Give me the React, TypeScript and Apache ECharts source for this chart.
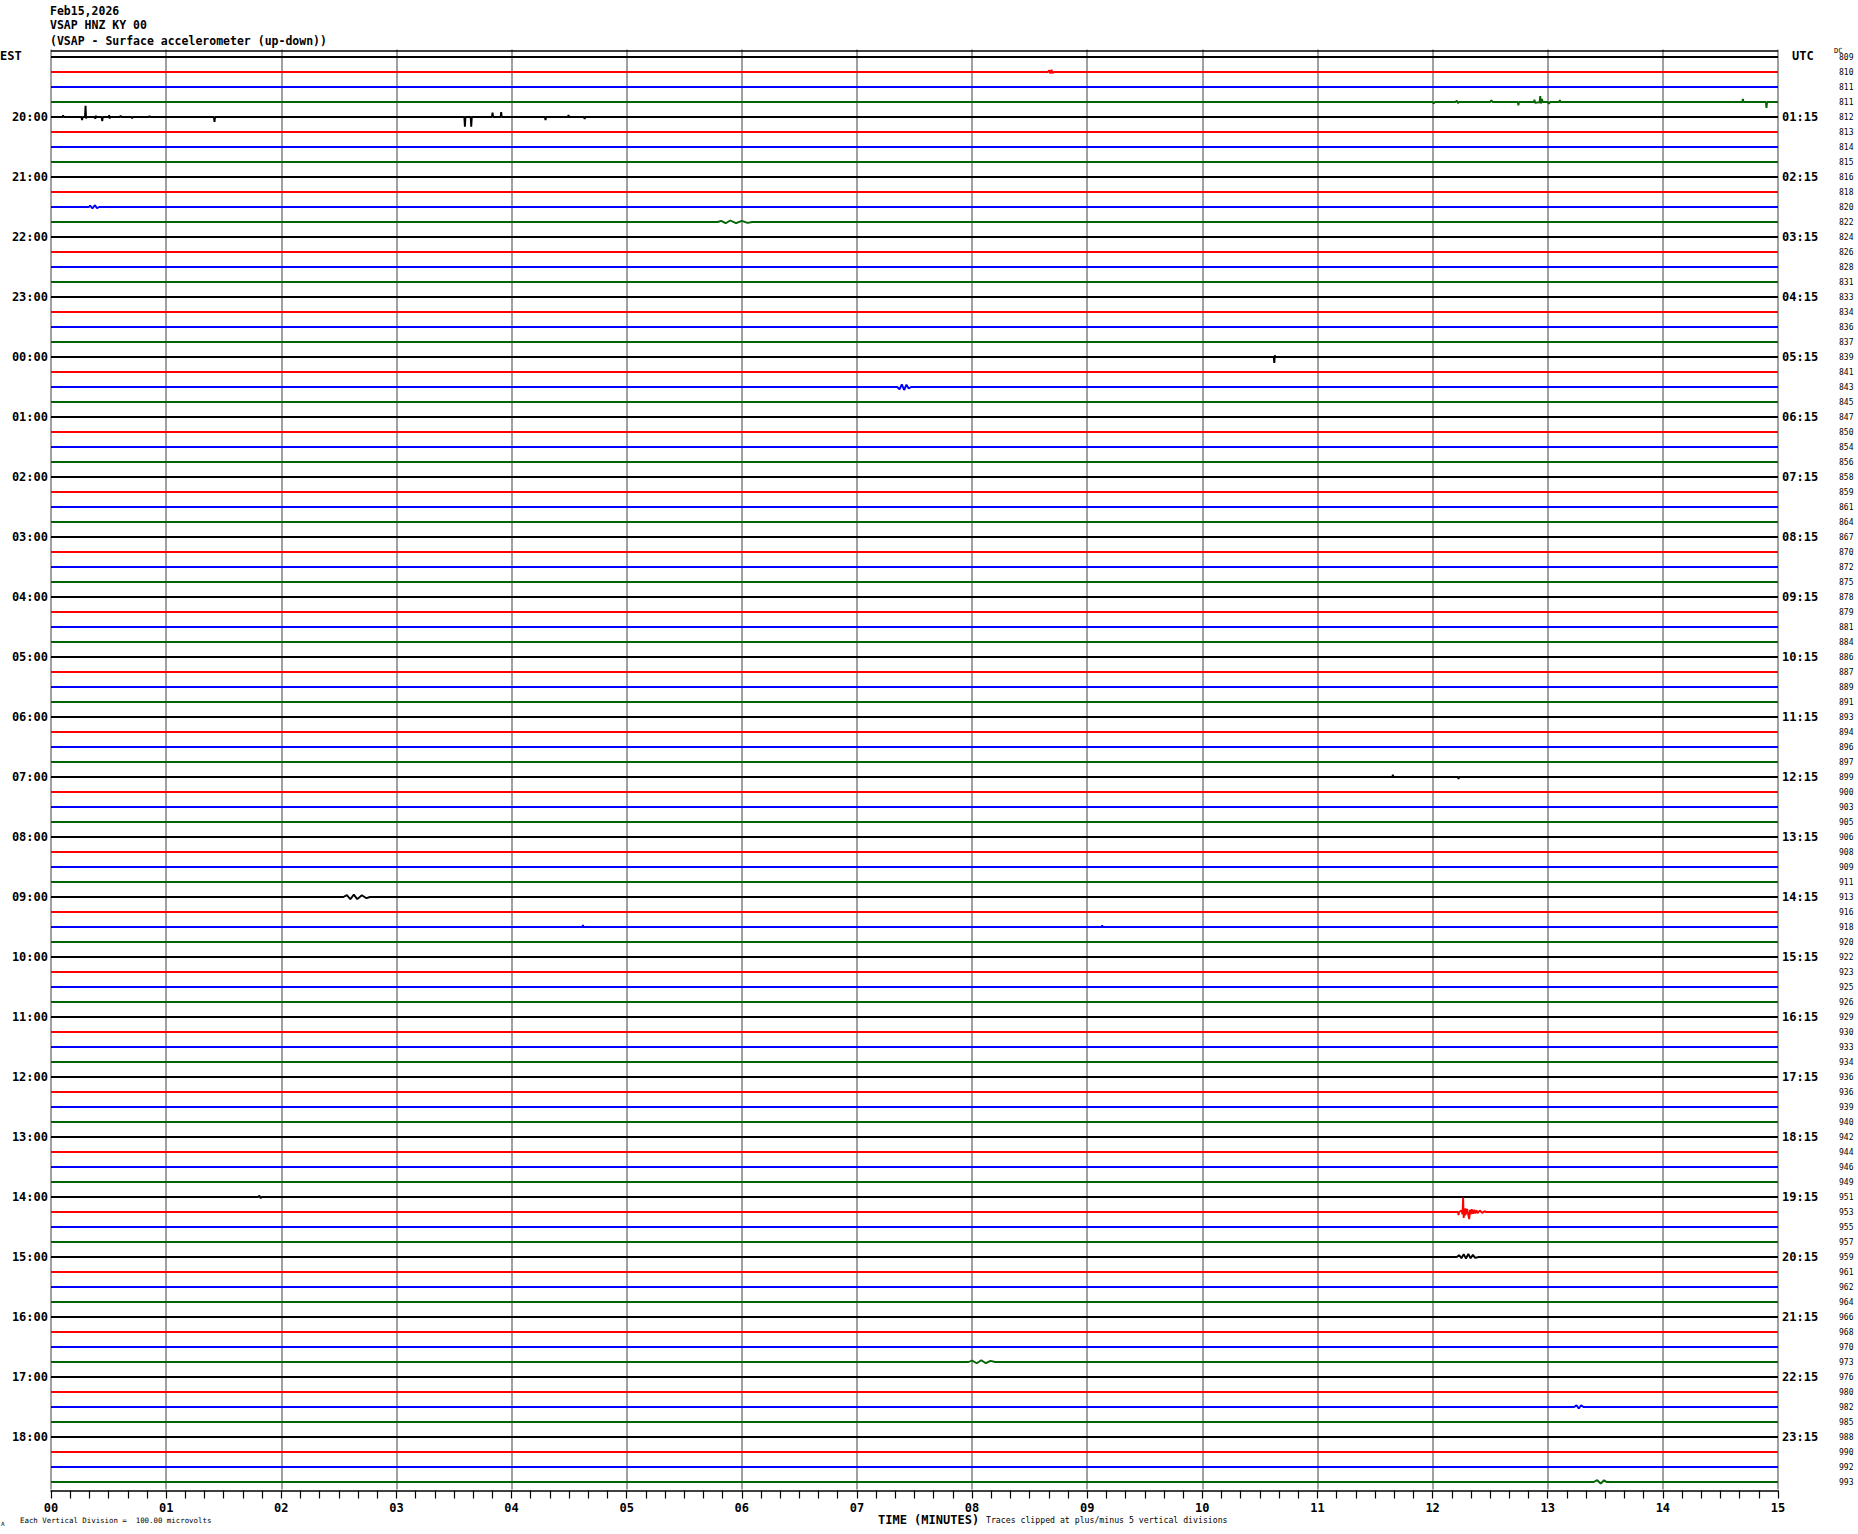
import React, { useEffect, useRef } from "react";
import * as echarts from "echarts";

// ---------- data ----------
const traceColors = ["#000000", "#ff0000", "#0000ff", "#006400"];
const TRACE_COUNT = 96;
const MINUTES = 15;

const estHourLabels = [
  "20:00", "21:00", "22:00", "23:00", "00:00", "01:00", "02:00", "03:00",
  "04:00", "05:00", "06:00", "07:00", "08:00", "09:00", "10:00", "11:00",
  "12:00", "13:00", "14:00", "15:00", "16:00", "17:00", "18:00",
];
const utcHourLabels = [
  "01:15", "02:15", "03:15", "04:15", "05:15", "06:15", "07:15", "08:15",
  "09:15", "10:15", "11:15", "12:15", "13:15", "14:15", "15:15", "16:15",
  "17:15", "18:15", "19:15", "20:15", "21:15", "22:15", "23:15",
];
const dcValues = [
  809, 810, 811, 811, 812, 813, 814, 815, 816, 818, 820, 822, 824, 826, 828, 831,
  833, 834, 836, 837, 839, 841, 843, 845, 847, 850, 854, 856, 858, 859, 861, 864,
  867, 870, 872, 875, 878, 879, 881, 884, 886, 887, 889, 891, 893, 894, 896, 897,
  899, 900, 903, 905, 906, 908, 909, 911, 913, 916, 918, 920, 922, 923, 925, 926,
  929, 930, 933, 934, 936, 936, 939, 940, 942, 944, 946, 949, 951, 953, 955, 957,
  959, 961, 962, 964, 966, 968, 970, 973, 976, 980, 982, 985, 988, 990, 992, 993,
];

// Events: [minute, microvolts] (positive = up)
const trace01 = [[8.66, 0], [8.67, 12], [8.68, -10], [8.69, 14], [8.7, -8], [8.71, 0]];
const trace03 = [
  [12.0, 0], [12.01, -10], [12.02, 0], [12.2, 0], [12.21, 10], [12.22, -8], [12.23, 0],
  [12.5, 0], [12.51, 12], [12.52, 0], [12.74, 0], [12.745, -22], [12.75, 0],
  [12.88, 0], [12.885, 15], [12.89, -6], [12.93, 0], [12.935, 40], [12.94, -10],
  [12.95, 20], [12.955, 0], [13.0, 0], [13.01, -12], [13.02, 0], [13.1, 0],
  [13.105, 14], [13.11, 0], [14.69, 0], [14.695, 20], [14.7, 0], [14.895, 0],
  [14.9, -40], [14.905, 0],
];
const trace04 = [
  [0.1, 0], [0.105, 12], [0.11, 0], [0.265, 0], [0.27, -20], [0.275, 0], [0.295, 0],
  [0.3, 75], [0.305, -10], [0.31, 0], [0.38, 0], [0.385, -12], [0.39, 8], [0.395, 0],
  [0.44, 0], [0.445, -28], [0.45, 0], [0.5, 0], [0.505, 12], [0.51, -10], [0.515, 0],
  [0.6, 0], [0.605, 10], [0.61, 0], [0.7, 0], [0.705, -10], [0.71, 0], [0.85, 0],
  [0.855, 8], [0.86, 0], [1.415, 0], [1.42, -33], [1.425, 0], [3.59, 0], [3.595, -64],
  [3.6, 0], [3.645, 0], [3.65, -64], [3.655, 0], [3.83, 0], [3.835, 30], [3.84, 0],
  [3.905, 0], [3.91, 33], [3.915, 0], [4.29, 0], [4.295, -20], [4.3, 0], [4.49, 0],
  [4.495, 13], [4.5, 0], [4.63, 0], [4.635, -13], [4.64, 0],
];
const trace10 = [[0.33, 0], [0.34, 10], [0.36, -10], [0.38, 12], [0.4, -8], [0.42, 0]];
const trace11 = [
  [5.79, 0], [5.82, 8], [5.86, -8], [5.9, 10], [5.95, -8], [6.0, 8], [6.05, -6], [6.09, 0],
];
const trace20 = [[10.62, 0], [10.625, -40], [10.63, 12], [10.635, 0]];
const trace22 = [
  [7.35, 0], [7.37, -15], [7.39, 18], [7.41, -20], [7.43, 15], [7.45, -10], [7.47, 0],
];
const trace48 = [[11.65, 0], [11.655, 15], [11.66, 0], [12.22, 0], [12.225, -13], [12.23, 0]];
const trace56 = [
  [2.54, 0], [2.57, 12], [2.6, -15], [2.63, 16], [2.66, -14], [2.7, 12], [2.74, -8], [2.77, 0],
];
const trace58 = [[4.615, 0], [4.62, 14], [4.625, 0], [9.125, 0], [9.13, 12], [9.135, 0]];
const trace76 = [[1.8, 0], [1.81, 10], [1.82, -8], [1.83, 0]];
const trace77 = [
  [12.22, 0], [12.225, -20], [12.23, 0], [12.25, 10], [12.26, -15], [12.265, 96],
  [12.27, -40], [12.275, 20], [12.28, -25], [12.285, 25], [12.29, -15], [12.3, 20],
  [12.31, -20], [12.318, -47], [12.325, 15], [12.33, -15], [12.34, 18], [12.35, -12],
  [12.36, 14], [12.37, -10], [12.38, 12], [12.39, -8], [12.41, 10], [12.43, -6],
  [12.455, 6], [12.46, 0],
];
const trace80 = [
  [12.21, 0], [12.23, 12], [12.25, -8], [12.27, 18], [12.29, -10], [12.31, 20],
  [12.33, -8], [12.35, 14], [12.37, -6], [12.4, 0],
];
const trace87 = [
  [7.97, 0], [8.0, 10], [8.04, -8], [8.08, 12], [8.12, -8], [8.16, 8], [8.2, 0],
];
const trace90 = [[13.23, 0], [13.25, 12], [13.27, -10], [13.29, 12], [13.31, 0]];
const trace95 = [[13.4, 0], [13.43, 12], [13.46, -10], [13.49, 12], [13.51, 0]];

const traceEvents: Record<number, number[][]> = {
  1: trace01, 3: trace03, 4: trace04, 10: trace10, 11: trace11, 20: trace20,
  22: trace22, 48: trace48, 56: trace56, 58: trace58, 76: trace76, 77: trace77,
  80: trace80, 87: trace87, 90: trace90, 95: trace95,
};

const MICROVOLTS_PER_DIVISION = 100; // one trace spacing = one division

const MONO = "'DejaVu Sans Mono', 'Liberation Mono', monospace";

export default function App() {
  const ref = useRef<HTMLDivElement>(null);

  useEffect(() => {
    document.body.style.margin = "0";
    if (!ref.current) return;
    const chart = echarts.init(ref.current, undefined, { renderer: "svg" });

    const categories = Array.from({ length: TRACE_COUNT }, (_, i) => String(i));

    const series: any[] = [];
    for (let i = 0; i < TRACE_COUNT; i++) {
      const ev = traceEvents[i] || [];
      const pts = [[0, 0], ...ev, [MINUTES, 0]].map(([m, uv]) => [
        m,
        i - uv / MICROVOLTS_PER_DIVISION,
      ]);
      series.push({
        type: "line",
        xAxisIndex: 0,
        yAxisIndex: 0,
        data: pts,
        showSymbol: false,
        symbol: "none",
        silent: true,
        lineStyle: { color: traceColors[i % 4], width: 1.9 },
        z: 3,
      });
    }

    const option: any = {
      animation: false,
      backgroundColor: "#ffffff",
      grid: { left: 51, right: 80, top: 49.5, bottom: 44.5, containLabel: false },
      xAxis: [
        {
          type: "value",
          min: 0,
          max: MINUTES,
          interval: 1,
          position: "bottom",
          offset: 1,
          axisLine: { show: true, onZero: false, lineStyle: { color: "#000", width: 1.5 } },
          axisTick: { show: true, length: 8, lineStyle: { color: "#000", width: 1.2 } },
          minorTick: { show: true, splitNumber: 6, length: 8, lineStyle: { color: "#000", width: 1.2 } },
          splitLine: { show: true, lineStyle: { color: "#808080", width: 1.5 } },
          axisLabel: {
            margin: 11,
            formatter: (v: number) => String(v).padStart(2, "0"),
            fontFamily: MONO,
            fontWeight: "bold",
            fontSize: 12,
            color: "#000",
          },
        },
      ],
      yAxis: [
        {
          type: "value",
          min: -0.5,
          max: TRACE_COUNT - 0.5,
          inverse: true,
          show: false,
        },
        {
          type: "category",
          data: categories,
          inverse: true,
          position: "left",
          axisLine: { show: false },
          axisTick: { show: false },
          splitLine: { show: false },
          axisLabel: {
            interval: 0,
            margin: 3,
            formatter: (_v: string, idx: number) =>
              idx > 0 && idx % 4 === 0 ? estHourLabels[idx / 4 - 1] : "",
            fontFamily: MONO,
            fontWeight: "bold",
            fontSize: 12,
            color: "#000",
          },
        },
        {
          type: "category",
          data: categories,
          inverse: true,
          position: "right",
          axisLine: { show: false },
          axisTick: { show: false },
          splitLine: { show: false },
          axisLabel: {
            interval: 0,
            margin: 4,
            formatter: (_v: string, idx: number) =>
              idx > 0 && idx % 4 === 0 ? utcHourLabels[idx / 4 - 1] : "",
            fontFamily: MONO,
            fontWeight: "bold",
            fontSize: 12,
            color: "#000",
          },
        },
        {
          type: "category",
          data: categories,
          inverse: true,
          position: "right",
          offset: 57,
          axisLine: { show: false },
          axisTick: { show: false },
          splitLine: { show: false },
          axisLabel: {
            interval: 0,
            margin: 4,
            formatter: (_v: string, idx: number) => String(dcValues[idx]),
            fontFamily: MONO,
            fontSize: 8,
            color: "#000",
          },
        },
      ],
      graphic: [
        {
          type: "line",
          shape: { x1: 51, y1: 51, x2: 1778, y2: 51 },
          style: { stroke: "#000", lineWidth: 1.5 },
          z: 10,
        },
        {
          type: "text", left: 50, top: 5,
          style: { text: "Feb15,2026", font: `bold 11.5px ${MONO}`, fill: "#000" },
        },
        {
          type: "text", left: 50, top: 19,
          style: { text: "VSAP HNZ KY 00", font: `bold 11.5px ${MONO}`, fill: "#000" },
        },
        {
          type: "text", left: 50, top: 35,
          style: { text: "(VSAP - Surface accelerometer (up-down))", font: `bold 11.5px ${MONO}`, fill: "#000" },
        },
        {
          type: "text", left: 0, top: 50,
          style: { text: "EST", font: `bold 12px ${MONO}`, fill: "#000" },
        },
        {
          type: "text", left: 1792, top: 50,
          style: { text: "UTC", font: `bold 12px ${MONO}`, fill: "#000" },
        },
        {
          type: "text", left: 1834, top: 47,
          style: { text: "DC", font: `7px ${MONO}`, fill: "#000" },
        },
        {
          type: "text", left: 878, top: 1514,
          style: { text: "TIME (MINUTES)", font: `bold 12px ${MONO}`, fill: "#000" },
        },
        {
          type: "text", left: 986, top: 1516,
          style: { text: "Traces clipped at plus/minus 5 vertical divisions", font: `8.2px ${MONO}`, fill: "#000" },
        },
        {
          type: "text", left: 20, top: 1517,
          style: { text: "Each Vertical Division =  100.00 microvolts", font: `7.4px ${MONO}`, fill: "#000" },
        },
        {
          type: "text", left: 1, top: 1520,
          style: { text: "A", font: `6px ${MONO}`, fill: "#000" },
        },
      ],
      series,
    };

    chart.setOption(option);
    return () => chart.dispose();
  }, []);

  return <div ref={ref} style={{ width: 1858, height: 1534 }} />;
}
